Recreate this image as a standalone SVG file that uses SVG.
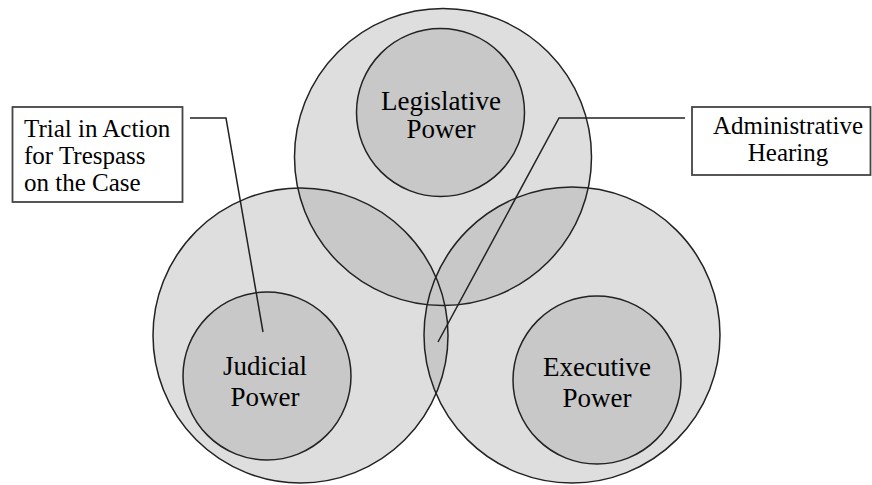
<svg xmlns="http://www.w3.org/2000/svg" width="872" height="485" viewBox="0 0 872 485" font-family="'Liberation Serif'">
<defs>
<clipPath id="cLeft"><circle cx="300.5" cy="335.5" r="147.5"/></clipPath>
<clipPath id="cRight"><circle cx="572" cy="335" r="148"/></clipPath>
</defs>
<rect width="872" height="485" fill="#fff"/>
<g id="outer-fills" stroke="none">
<circle fill="#dedede" cx="443" cy="157" r="148.5"/>
<circle fill="#dedede" cx="300.5" cy="335.5" r="147.5"/>
<circle fill="#dedede" cx="572" cy="335" r="148"/>
<circle fill="#c8c8c8" cx="443" cy="157" r="148.5" clip-path="url(#cLeft)"/>
<circle fill="#c8c8c8" cx="443" cy="157" r="148.5" clip-path="url(#cRight)"/>
<circle fill="#c8c8c8" cx="300.5" cy="335.5" r="147.5" clip-path="url(#cRight)"/>
</g>
<g id="legislative" fill="none" stroke="#222" stroke-width="1.5">
<circle cx="443" cy="157" r="148.5"/>
</g>
<g id="judicial" fill="none" stroke="#222" stroke-width="1.5">
<circle cx="300.5" cy="335.5" r="147.5"/>
</g>
<g id="executive" fill="none" stroke="#222" stroke-width="1.5">
<circle cx="572" cy="335" r="148"/>
</g>
<g id="legislative-power">
<circle fill="#c8c8c8" stroke="#222" stroke-width="1.5" cx="440.5" cy="112.5" r="84"/>
<text style="font-family:'Liberation Serif'" font-family="'Liberation Serif'" font-size="27" text-anchor="middle" x="441" y="110">Legislative</text>
<text style="font-family:'Liberation Serif'" font-family="'Liberation Serif'" font-size="27" text-anchor="middle" x="441" y="138">Power</text>
</g>
<g id="judicial-power">
<circle fill="#c8c8c8" stroke="#222" stroke-width="1.5" cx="267" cy="376" r="84"/>
<text style="font-family:'Liberation Serif'" font-family="'Liberation Serif'" font-size="27" text-anchor="middle" x="265" y="375">Judicial</text>
<text style="font-family:'Liberation Serif'" font-family="'Liberation Serif'" font-size="27" text-anchor="middle" x="265" y="406">Power</text>
</g>
<g id="executive-power">
<circle fill="#c8c8c8" stroke="#222" stroke-width="1.5" cx="597" cy="380" r="84"/>
<text style="font-family:'Liberation Serif'" font-family="'Liberation Serif'" font-size="27" text-anchor="middle" x="597" y="376">Executive</text>
<text style="font-family:'Liberation Serif'" font-family="'Liberation Serif'" font-size="27" text-anchor="middle" x="597" y="407">Power</text>
</g>
<g id="connectors" fill="none" stroke="#222" stroke-width="1.5">
<polyline points="190,118 226,118 263,332"/>
<polyline points="685,118 559,118 438,342"/>
</g>
<g id="trial-box">
<rect fill="#fff" stroke="#444" stroke-width="1.8" x="12.5" y="107" width="170" height="95"/>
<text style="font-family:'Liberation Serif'" font-family="'Liberation Serif'" font-size="25" x="24" y="137">Trial in Action</text>
<text style="font-family:'Liberation Serif'" font-family="'Liberation Serif'" font-size="25" x="24" y="164">for Trespass</text>
<text style="font-family:'Liberation Serif'" font-family="'Liberation Serif'" font-size="25" x="24" y="191">on the Case</text>
</g>
<g id="admin-box">
<rect fill="#fff" stroke="#444" stroke-width="1.8" x="692" y="107" width="178.5" height="68"/>
<text style="font-family:'Liberation Serif'" font-family="'Liberation Serif'" font-size="25" x="788" y="134" text-anchor="middle">Administrative</text>
<text style="font-family:'Liberation Serif'" font-family="'Liberation Serif'" font-size="25" x="788" y="161" text-anchor="middle">Hearing</text>
</g>
</svg>
